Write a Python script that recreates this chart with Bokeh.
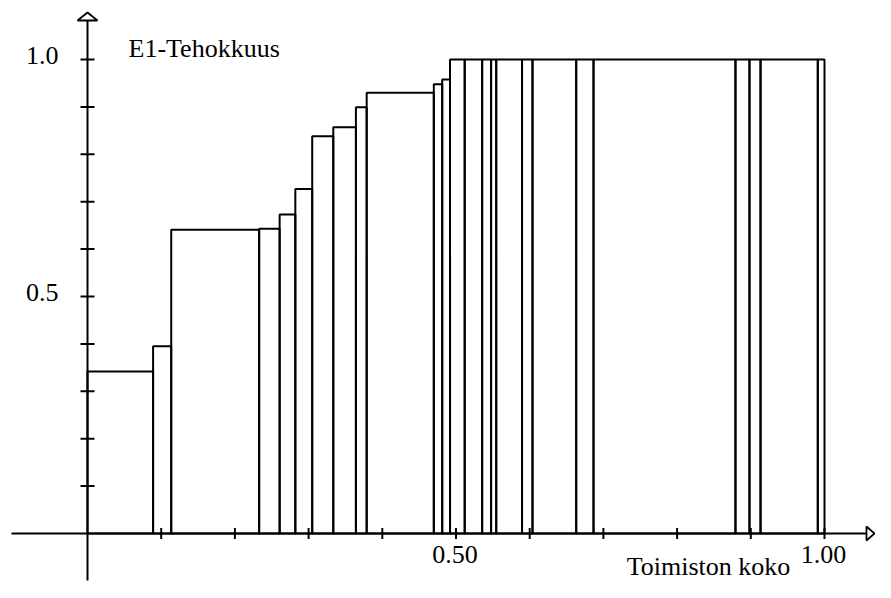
from bokeh.plotting import figure
from bokeh.models import Range1d
from bokeh.core.properties import value
from bokeh.embed import file_html
from bokeh.resources import INLINE

# ---- data ----
edges = [0.0, 0.089, 0.1136, 0.2329, 0.2607, 0.2820, 0.3049, 0.3335, 0.3642, 0.3788,
         0.4699, 0.4813, 0.4919, 0.5118, 0.5355, 0.5476, 0.5546, 0.5896, 0.6038,
         0.6631, 0.6866, 0.8792, 0.8982, 0.9132, 0.9909, 1.0]
heights = [0.342, 0.395, 0.641, 0.643, 0.673, 0.727, 0.838, 0.857, 0.899, 0.930,
           0.948, 0.958, 1.0, 1.0, 1.0, 1.0, 1.0, 1.0, 1.0,
           1.0, 1.0, 1.0, 1.0, 1.0, 1.0]
x_tick_values = [0.1, 0.2, 0.3, 0.4, 0.5, 0.6, 0.7, 0.8, 0.9, 1.0]
y_tick_values = [0.1, 0.2, 0.3, 0.4, 0.5, 0.6, 0.7, 0.8, 0.9, 1.0]
x_tick_labels = {0.5: "0.50", 1.0: "1.00"}
y_tick_labels = {0.5: "0.5", 1.0: "1.0"}
y_title = "E1-Tehokkuus"
x_title = "Toimiston koko"

# ---- layout ----
W, H = 875, 582
X0, SX = 87, 737.0   # pixel of x=0, pixels per unit
Y0, SY = 533, 474.0  # pixel of y=0 (from top), pixels per unit

def dx(px):
    return px / SX

def dy(px):
    return px / SY

p = figure(width=W, height=H, output_backend="svg", toolbar_location=None,
           x_range=Range1d(-X0 / SX, (W - X0) / SX),
           y_range=Range1d(-(H - Y0) / SY, Y0 / SY),
           x_axis_location=None, y_axis_location=None,
           min_border=0, min_border_left=0, min_border_right=0,
           min_border_top=0, min_border_bottom=0)
p.grid.visible = False
p.outline_line_color = None
p.background_fill_color = "white"
p.border_fill_color = "white"

FONT = value("Liberation Serif")
FS = "26px"
LW = 2

# bars (outlined steps)
p.quad(left=edges[:-1], right=edges[1:], top=heights, bottom=0,
       fill_color=None, line_color="black", line_width=LW)

# axes lines
x_min = p.x_range.start + dx(11)
x_tip = p.x_range.end - dx(1)
y_min = -dy(47)
y_tip = p.y_range.end - dy(12)
p.line([x_min, x_tip], [0, 0], line_color="black", line_width=2)
p.line([0, 0], [y_min, y_tip], line_color="black", line_width=2)

# arrowheads (open triangles)
p.patch([0 - dx(10), 0, 0 + dx(10)], [y_tip - dy(8), y_tip, y_tip - dy(8)],
        fill_color="white", line_color="black", line_width=1.8)
p.patch([x_tip - dx(8), x_tip, x_tip - dx(8)], [dy(7), 0, -dy(7)],
        fill_color="white", line_color="black", line_width=1.8)

# tick marks
p.scatter(x=[0] * len(y_tick_values), y=y_tick_values, marker="dash", size=14,
          line_color="black", line_width=2)
p.scatter(x=x_tick_values, y=[0] * len(x_tick_values), marker="dash", size=11,
          angle=1.5708, line_color="black", line_width=2)

# tick labels
yl = sorted(y_tick_labels)
p.text(x=[0] * len(yl), y=yl, text=[y_tick_labels[v] for v in yl],
       x_offset=-29, y_offset=-4, text_align="right", text_baseline="middle",
       text_font=FONT, text_font_size=FS, text_color="black")
xl = sorted(x_tick_labels)
p.text(x=xl, y=[0] * len(xl), text=[x_tick_labels[v] for v in xl],
       x_offset=-1, y_offset=21, text_align="center", text_baseline="middle",
       text_font=FONT, text_font_size=FS, text_color="black")

# axis titles
p.text(x=[0], y=[1.0], text=[y_title], x_offset=41, y_offset=-11,
       text_align="left", text_baseline="middle",
       text_font=FONT, text_font_size=FS, text_color="black")
p.text(x=[1.0], y=[0], text=[x_title], x_offset=-116, y_offset=33,
       text_align="center", text_baseline="alphabetic",
       text_font=FONT, text_font_size=FS, text_color="black")

open("out.html", "w").write(file_html(p, INLINE))
